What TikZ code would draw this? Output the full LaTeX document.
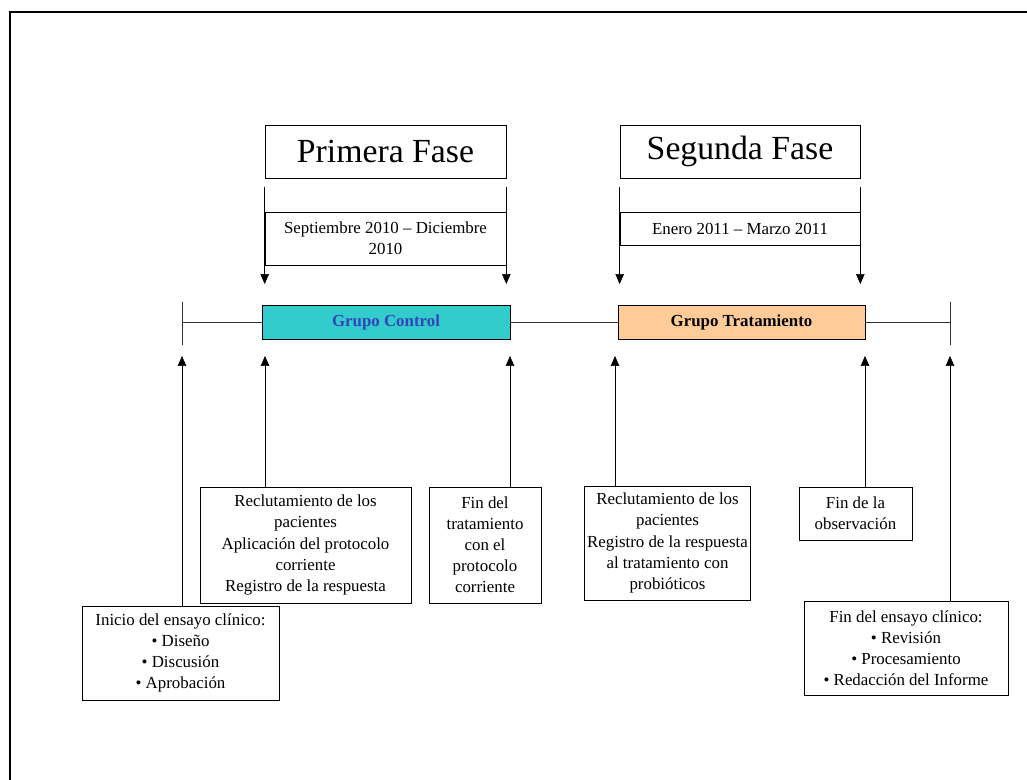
\documentclass[tikz,border=0pt]{standalone}
\usepackage{fontspec}
\setmainfont{Liberation Serif}
\usetikzlibrary{arrows.meta,calc,positioning}
\definecolor{turquesa}{HTML}{33CCCC}
\definecolor{durazno}{HTML}{FFCC99}
\definecolor{azulgrupo}{HTML}{3344BB}
\tikzset{
    line width=0.75pt,
    caja/.style ={rectangle, draw, align=center, inner sep=2pt, font=\fontsize{12}{15}\selectfont},
    fase/.style ={caja, font=\fontsize{24}{28}\selectfont},
    grupo/.style ={rectangle, draw, minimum width=6.2cm, minimum height=0.85cm, font=\fontsize{12}{14}\selectfont\bfseries},
    flecha/.style={-{Triangle[length=7pt,width=6pt]}},
    linea/.style ={draw=black!80}
}

\begin{document}
\begin{tikzpicture}[x=0.025cm,y=-0.025cm]
        \useasboundingbox (0,0) rectangle (1027,780);
        \draw[line width=1.4pt] (10,780) -- (10,12) -- (1027,12);
        % Fases
        \node[fase, minimum width=6.025cm, minimum height=1.325cm] (primera) at (385.5,151.5) {Primera Fase};
        \node[caja, minimum width=6.025cm, minimum height=1.325cm] (septiembre) at (385.5,238.5) {Septiembre 2010 -- Diciembre\\2010};
        \node[fase, minimum width=6cm, minimum height=1.325cm] (segunda) at (740,151.5) {Segunda Fase};
        \node[caja, minimum width=6cm, minimum height=0.825cm] (enero) at (740,228.5) {Enero 2011 -- Marzo 2011};
        % Linea de tiempo
        \coordinate (inicioT) at (182,322);
        \coordinate (finT) at (950,322);
        \node[grupo, fill=turquesa, text=azulgrupo] (control) at (386,322) {Grupo Control};
        \node[grupo, fill=durazno, minimum width=6.175cm] (tratamiento) at (741.5,322) {Grupo Tratamiento};
        \draw[linea] (inicioT) ++(0,-20) -- ++(0,43);
        \draw[linea] (finT) ++(0,-20) -- ++(0,43);
        \draw[linea] (inicioT) -- (control.west);
        \draw[linea] (control.east) -- (tratamiento.west);
        \draw[linea] (tratamiento.east) -- (finT);
        % Eventos
        \node[caja, minimum width=5.275cm, minimum height=2.9cm] (reclutamiento1) at (305.5,545) {Reclutamiento de los\\pacientes\\Aplicación del protocolo\\corriente\\Registro de la respuesta};
        \node[caja, minimum width=2.8cm, minimum height=2.9cm] (fintratamiento) at (485,545) {Fin del\\tratamiento\\con el\\protocolo\\corriente};
        \node[caja, minimum width=3.975cm, minimum height=2.85cm] (reclutamiento2) at (667.5,543) {Reclutamiento de los\\pacientes\\Registro de la respuesta\\al tratamiento con\\probióticos};
        \node[caja, minimum width=2.825cm, minimum height=1.325cm] (finobservacion) at (855.5,513.5) {Fin de la\\observación};
        \node[caja, minimum width=4.925cm, minimum height=2.35cm] (inicio) at (180.5,653) {Inicio del ensayo clínico:\\\textbullet\ Diseño\\\textbullet\ Discusión\\\textbullet\ Aprobación};
        \node[caja, minimum width=5.1cm, minimum height=2.35cm] (finensayo) at (906,648) {Fin del ensayo clínico:\\\textbullet\ Revisión\\\textbullet\ Procesamiento\\\textbullet\ Redacción del Informe};
        % Flechas hacia abajo
        \coordinate (bajada) at (0,284);
        \draw[flecha, shorten <=6.4pt] (primera.south west) -- (primera.south west |- bajada);
        \draw[flecha, shorten <=6.4pt] (primera.south east) -- (primera.south east |- bajada);
        \draw[flecha, shorten <=6.4pt] (segunda.south west) -- (segunda.south west |- bajada);
        \draw[flecha, shorten <=6.4pt] (segunda.south east) -- (segunda.south east |- bajada);
        % Flechas hacia arriba
        \coordinate (a1) at (182,356);
        \coordinate (a2) at (265,356);
        \coordinate (a3) at (510,356);
        \coordinate (a4) at (615,356);
        \coordinate (a5) at (865,356);
        \coordinate (a6) at (950,356);
        \draw[flecha] (inicio.north -| a1) -- (a1);
        \draw[flecha] (reclutamiento1.north -| a2) -- (a2);
        \draw[flecha] (fintratamiento.north -| a3) -- (a3);
        \draw[flecha] (reclutamiento2.north -| a4) -- (a4);
        \draw[flecha] (finobservacion.north -| a5) -- (a5);
        \draw[flecha] (finensayo.north -| a6) -- (a6);
    \end{tikzpicture}
\end{document}
